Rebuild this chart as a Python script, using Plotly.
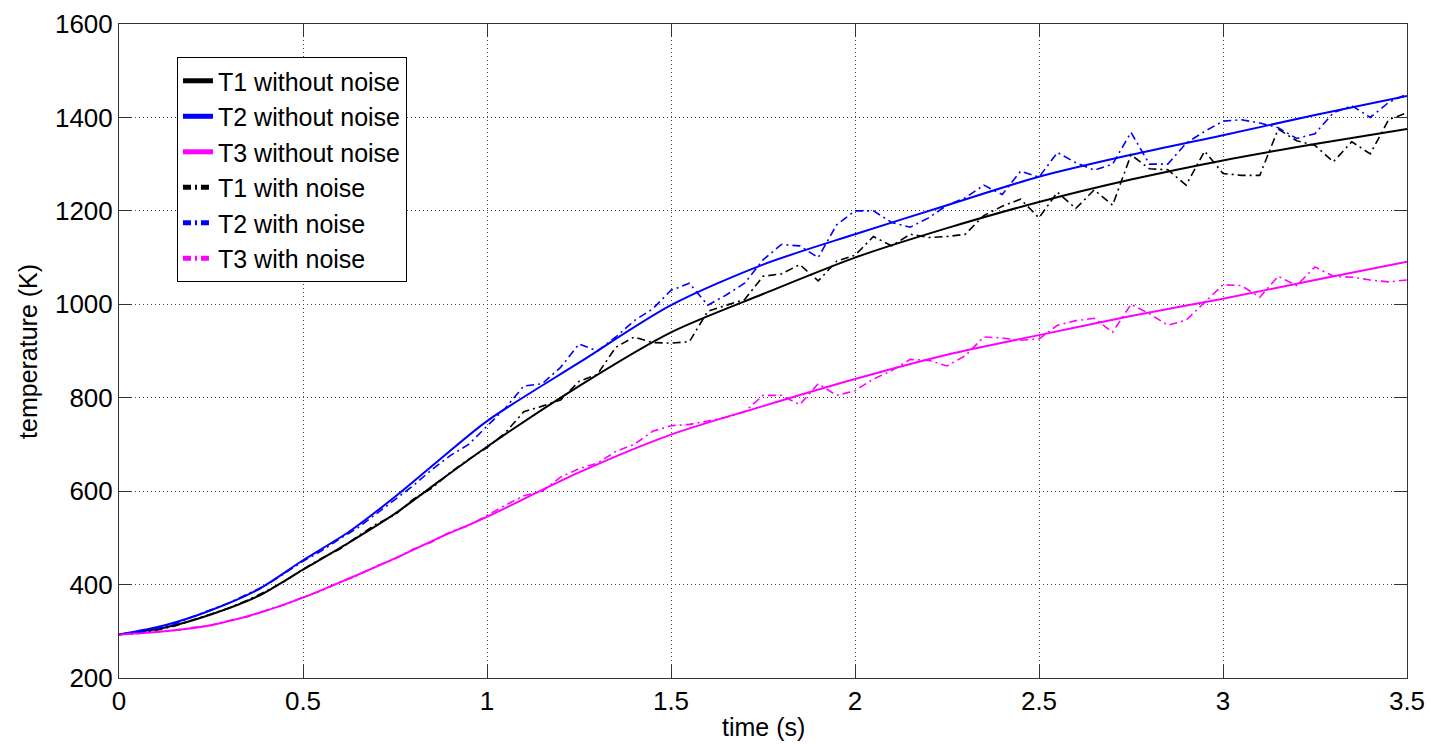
import plotly.graph_objects as go

# ---- data ----
t_smooth = [0, 0.125, 0.25, 0.375, 0.5, 0.625, 0.75, 0.875, 1.0, 1.25, 1.5,
            1.75, 2.0, 2.25, 2.5, 2.75, 3.0, 3.25, 3.5]
T1_clean = [293, 308, 336, 374, 432, 490, 552, 624, 695, 825, 940, 1022, 1100,
            1163, 1219, 1267, 1308, 1343, 1375]
T2_clean = [293, 313, 345, 388, 452, 513, 588, 670, 750, 875, 998, 1085, 1150,
            1212, 1273, 1320, 1362, 1405, 1446]
T3_clean = [293, 300, 313, 338, 372, 413, 456, 502, 545, 640, 721, 782, 840,
            892, 934, 975, 1012, 1052, 1091]

t_noise = [round(i * 0.05, 2) for i in range(71)]
T1_noisy = [293, 296, 302, 311, 324, 337, 350, 367, 386, 407, 433, 456, 476, 504,
            530, 549, 583, 606, 640, 668, 693,
            725, 770, 782, 795, 835, 850, 908, 930, 918, 917, 920, 985, 998, 1010,
            1060, 1065, 1085, 1050, 1092, 1105,
            1145, 1125, 1150, 1143, 1145, 1150, 1190, 1210, 1225, 1185, 1240, 1205,
            1245, 1212, 1320, 1290, 1288, 1255, 1328, 1280,
            1276, 1276, 1375, 1350, 1340, 1305, 1348, 1322, 1395, 1410]
T2_noisy = [293, 297, 305, 315, 331, 346, 361, 380, 399, 424, 450, 472, 498, 522,
            552, 582, 612, 646, 676, 700, 740,
            778, 825, 830, 865, 915, 900, 930, 965, 990, 1030, 1045, 998, 1020, 1045,
            1095, 1128, 1125, 1100, 1170, 1200,
            1200, 1175, 1165, 1185, 1212, 1228, 1255, 1235, 1285, 1272, 1325, 1303,
            1287, 1300, 1368, 1300, 1300, 1345, 1370, 1392,
            1395, 1388, 1378, 1355, 1365, 1410, 1425, 1400, 1432, 1450]
T3_noisy = [293, 295, 299, 302, 308, 313, 323, 331, 345, 357, 373, 387, 405, 420,
            440, 455, 476, 491, 513, 526, 548,
            570, 590, 600, 630, 648, 660, 685, 700, 728, 740, 743, 750, 758, 770,
            805, 805, 785, 830, 805, 815,
            840, 858, 882, 880, 868, 890, 930, 928, 923, 926, 955, 965, 970, 940,
            1000, 980, 955, 966, 1005, 1042,
            1040, 1015, 1060, 1040, 1080, 1060, 1058, 1052, 1048, 1052]

x_ticks = [0, 0.5, 1, 1.5, 2, 2.5, 3, 3.5]
x_ticklabels = ["0", "0.5", "1", "1.5", "2", "2.5", "3", "3.5"]
y_ticks = [200, 400, 600, 800, 1000, 1200, 1400, 1600]
y_ticklabels = ["200", "400", "600", "800", "1000", "1200", "1400", "1600"]
x_title = "time (s)"
y_title = "temperature (K)"

BLACK = "#000000"
BLUE = "#0000ff"
MAGENTA = "#ff00ff"
DASHDOT = "8px,4px,2px,4px"
FONT = "Arial, 'Liberation Sans', Helvetica, sans-serif"

fig = go.Figure()
for name, y, c in [("T1 without noise", T1_clean, BLACK),
                   ("T2 without noise", T2_clean, BLUE),
                   ("T3 without noise", T3_clean, MAGENTA)]:
    fig.add_trace(go.Scatter(x=t_smooth, y=y, mode="lines", name=name,
                             line=dict(color=c, width=2, shape="spline", smoothing=0.8)))
for name, y, c in [("T1 with noise", T1_noisy, BLACK),
                   ("T2 with noise", T2_noisy, BLUE),
                   ("T3 with noise", T3_noisy, MAGENTA)]:
    fig.add_trace(go.Scatter(x=t_noise, y=y, mode="lines", name=name,
                             line=dict(color=c, width=1.6, dash=DASHDOT)))

axis_common = dict(
    showline=True, linecolor="#333333", linewidth=1, mirror="ticks",
    ticks="inside", ticklen=13, tickcolor="#333333", tickwidth=1,
    showgrid=True, gridcolor="#444444", gridwidth=1, griddash="1px,3px",
    zeroline=False, tickfont=dict(size=26, color="#000000", family=FONT),
)

fig.update_xaxes(range=[0, 3.5], tickvals=x_ticks, ticktext=x_ticklabels, **axis_common)
fig.update_yaxes(range=[200, 1600], tickvals=y_ticks, ticktext=y_ticklabels, **axis_common)

fig.add_annotation(text=x_title, xref="paper", yref="paper", x=0.5, y=-0.075,
                   xanchor="center", yanchor="middle", showarrow=False,
                   font=dict(size=25, family=FONT, color="#000"))
fig.add_annotation(text=y_title, xref="paper", yref="paper", x=-0.0707, y=0.5,
                   xanchor="center", yanchor="middle", showarrow=False, textangle=-90,
                   font=dict(size=25, family=FONT, color="#000"))

fig.update_layout(
    width=1431, height=744,
    margin=dict(l=119, r=24, t=24, b=66, autoexpand=False),
    paper_bgcolor="white", plot_bgcolor="white",
    font=dict(family=FONT, size=26, color="#000"),
    showlegend=True,
    legend=dict(x=0.045, y=0.9495, xanchor="left", yanchor="top",
                bgcolor="white", bordercolor="#000000", borderwidth=1,
                font=dict(size=25, family=FONT, color="#000"),
                tracegroupgap=0, itemsizing="constant"),
)

fig.write_html(
    "out.html",
    config={"displayModeBar": False},
    post_script="document.body.style.margin='0';document.body.style.overflow='hidden';",
)
